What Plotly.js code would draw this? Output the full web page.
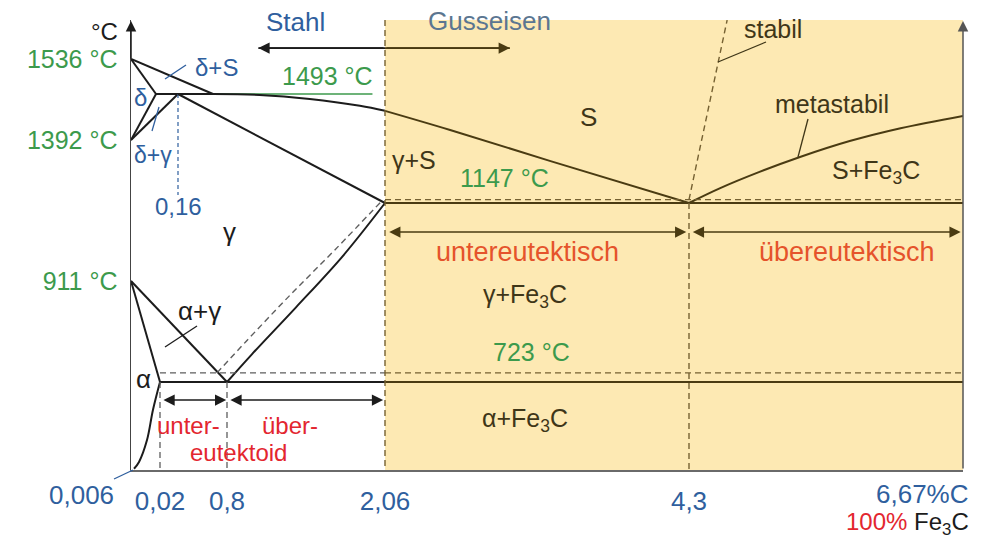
<!DOCTYPE html>
<html>
<head>
<meta charset="utf-8">
<script src="https://cdn.plot.ly/plotly-3.0.1.min.js"></script>
<style>
  html, body { margin: 0; padding: 0; background: #fff; }
  #chart { width: 1000px; height: 538px; }
</style>
</head>
<body>
<div id="chart"></div>
<script>
// Eisen-Kohlenstoff-Diagramm (schematisch, nicht maßstäblich)

// ---- characteristic temperatures (°C) ----
const tempTicks = [1536, 1392, 911];
const tempTickText = ['1536 °C', '1392 °C', '911 °C'];
const T_PERITECTIC = 1493;
const T_EUTECTIC = 1147;
const T_EUTECTOID = 723;
const T_EUTECTIC_STABLE = 1160;
const T_EUTECTOID_STABLE = 740;

// ---- characteristic carbon contents (% C) ----
const carbonTicks = [0.02, 0.8, 2.06, 4.3];
const carbonTickText = ['0,02', '0,8', '2,06', '4,3'];
const C_FE3C = 6.67;

// ---- phase boundaries: carbon (% C) / temperature (°C) ----
// delta corner (peritectic region, drawn enlarged)
const liquidusAB_C = [0, 0.53];          const liquidusAB_T = [1536, 1493];
const solidusAH_C = [0, 0.1];            const solidusAH_T = [1536, 1493];
const peritecticHB_C = [0.1, 0.53];      const peritecticHB_T = [1493, 1493];
const deltaNH_C = [0, 0.1];              const deltaNH_T = [1392, 1493];
const gammaNJ_C = [0, 0.16];             const gammaNJ_T = [1392, 1493];
// main diagram
const solidusJE_C = [0.16, 2.06];        const solidusJE_T = [1493, 1147];
const liquidusBC1_C = [0.53, 1.06, 1.46, 1.86, 2.06];
const liquidusBC1_T = [1493, 1491, 1482, 1467, 1456];
const liquidusBC2_C = [2.06, 2.54, 3.28, 4.3];
const liquidusBC2_T = [1456, 1414, 1310, 1147];
const liquidusCD_C = [4.3, 4.57, 4.91, 5.26, 5.69, 6.13, 6.67];
const liquidusCD_T = [1147, 1205, 1268, 1326, 1388, 1418, 1445];
const liquidusStable_C = [4.3, 4.63];    const liquidusStable_T = [1160, 1600];
const gs_C = [0, 0.8];                   const gs_T = [911, 723];
const gp_C = [0, 0.02];                  const gp_T = [911, 723];
const pq_C = [0.02, 0.0162, 0.013, 0.0087, 0.006];
const pq_T = [723, 493, 246, 66, 10];
const acm_C = [0.8, 1.0, 1.35, 1.72, 2.06];
const acm_T = [723, 775, 862, 985, 1147];
const acmStable_C = [0.607, 0.95, 1.30, 1.66, 2.044];
const acmStable_T = [740, 798, 884, 1005, 1160];
const tTop = 1600, tBottom = 0;

// ---- range arrows ----
const steelRange = [2.06, 1.05];         const castRange = [2.06, 2.98];
const tRangeArrows = 1554;
const eutectoidRanges = [[0.02, 0.8], [0.8, 2.06]];   const tEutectoidArrows = 575;
const eutecticRanges = [[2.06, 4.3], [4.3, 6.67]];    const tEutecticArrows = 1059;

// ---- schematic axis scales (piecewise linear) ----
const mainScaleC  = [0, 0.006, 0.02, 0.16, 0.53, 0.8, 2.06, 4.3, 6.67];
const mainScalePos = [131, 134, 160, 178, 213, 227, 385, 689, 963];
const deltaScaleC  = [0, 0.1, 0.16, 0.53];
const deltaScalePos = [131, 156, 178, 213];
const tempScaleT  = [0, 723, 911, 1147, 1392, 1493, 1536, 1600];
const tempScalePos = [470, 382, 281, 203, 140, 94, 59, 20];

function interp(v, xs, ys) {
  let i = 1;
  while (i < xs.length - 1 && v > xs[i]) i++;
  return ys[i - 1] + (v - xs[i - 1]) * (ys[i] - ys[i - 1]) / (xs[i] - xs[i - 1]);
}
const cx = c => interp(c, mainScaleC, mainScalePos);
const cxDelta = c => interp(c, deltaScaleC, deltaScalePos);
const ty = t => interp(t, tempScaleT, tempScalePos);

// ---- colours ----
const FONT = 'Liberation Sans, Arial, sans-serif';
const BLACK = '#1c1c1c';
const BROWN = '#4a3b12';
const DASH_GREY = '#5e5e5e';
const DASH_BROWN = '#756132';
const YELLOW = '#fde9b3';
const BLUE = '#2f5f9e';
const GREEN = '#3c9a4c';
const RED = '#e3262f';
const ORANGE = '#e5532b';
const DARK = '#3f3618';

function curve(cs, ts, color, opts = {}) {
  const sx = opts.scale || cx;
  return {
    type: 'scatter', mode: 'lines',
    x: cs.map(sx), y: ts.map(ty),
    line: { color: color, width: opts.width || 2, dash: opts.dash || 'solid',
            shape: opts.spline ? 'spline' : 'linear' },
    hoverinfo: 'skip', showlegend: false
  };
}
const DASH = '6px,4px';

const traces = [
  // delta corner
  curve(liquidusAB_C, liquidusAB_T, BLACK, { scale: cxDelta }),
  curve(solidusAH_C, solidusAH_T, BLACK, { scale: cxDelta }),
  curve(peritecticHB_C, peritecticHB_T, BLACK, { scale: cxDelta }),
  curve(deltaNH_C, deltaNH_T, BLACK, { scale: cxDelta }),
  curve(gammaNJ_C, gammaNJ_T, BLACK, { scale: cxDelta }),
  // 1493 °C marker line
  curve([0.53, 1.96], [T_PERITECTIC, T_PERITECTIC], GREEN, { width: 1.6 }),
  // 0,16 guide
  curve([0.16, 0.16], [T_PERITECTIC, 1178], BLUE, { width: 1.2, dash: '4px,3px' }),
  // solidus and liquidus
  curve(solidusJE_C, solidusJE_T, BLACK),
  curve(liquidusBC1_C, liquidusBC1_T, BLACK, { spline: true }),
  curve(liquidusBC2_C, liquidusBC2_T, BROWN, { spline: true }),
  curve(liquidusCD_C, liquidusCD_T, BROWN, { spline: true }),
  curve(liquidusStable_C, liquidusStable_T, DASH_BROWN, { width: 1.4, dash: DASH }),
  // eutectic
  curve([2.06, C_FE3C], [T_EUTECTIC_STABLE, T_EUTECTIC_STABLE], DASH_BROWN, { width: 1.4, dash: DASH }),
  curve([2.06, C_FE3C], [T_EUTECTIC, T_EUTECTIC], BROWN),
  // gamma / alpha region
  curve(gs_C, gs_T, BLACK),
  curve(gp_C, gp_T, BLACK),
  curve(pq_C, pq_T, BLACK, { spline: true }),
  curve(acmStable_C, acmStable_T, DASH_GREY, { width: 1.4, dash: DASH, spline: true }),
  curve(acm_C, acm_T, BLACK, { spline: true }),
  // eutectoid
  curve([0.02, 2.06], [T_EUTECTOID_STABLE, T_EUTECTOID_STABLE], DASH_GREY, { width: 1.4, dash: DASH }),
  curve([2.06, C_FE3C], [T_EUTECTOID_STABLE, T_EUTECTOID_STABLE], DASH_BROWN, { width: 1.4, dash: DASH }),
  curve([0.02, 2.06], [T_EUTECTOID, T_EUTECTOID], BLACK),
  curve([2.06, C_FE3C], [T_EUTECTOID, T_EUTECTOID], BROWN),
  // vertical guides
  curve([0.02, 0.02], [T_EUTECTOID, tBottom], DASH_GREY, { width: 1.3, dash: DASH }),
  curve([0.8, 0.8], [T_EUTECTOID, tBottom], DASH_GREY, { width: 1.3, dash: DASH }),
  curve([2.06, 2.06], [tTop, tBottom], DASH_BROWN, { width: 1.4, dash: DASH }),
  curve([4.3, 4.3], [T_EUTECTIC, tBottom], DASH_BROWN, { width: 1.4, dash: DASH }),
  // steel / cast iron arrow shafts
  curve([steelRange[1], steelRange[0]], [tRangeArrows, tRangeArrows], BLACK, { width: 1.8 }),
  curve([castRange[0], castRange[1]], [tRangeArrows, tRangeArrows], BROWN, { width: 1.8 })
];

// ---- text labels (positions in plot units, converted to paper) ----
const X0 = 131, X1 = 963, Y0 = 470, Y1 = 20;
const px = v => (v - X0) / (X1 - X0);
const py = v => (Y0 - v) / (Y0 - Y1);

function label(text, x, y, color, size, anchor) {
  return {
    text: text, xref: 'paper', yref: 'paper', x: px(x), y: py(y),
    xanchor: anchor || 'center', yanchor: 'middle', showarrow: false,
    font: { family: FONT, size: size, color: color }
  };
}
const SUB3 = 'Fe<sub>3</sub>C';
const annotations = [
  label('°C', 104, 31, BLACK, 24),
  label('Stahl', 295, 22, BLUE, 26),
  label('Gusseisen', 489, 21, '#5b7691', 26),
  label('stabil', 773, 29, DARK, 25),
  label('metastabil', 832, 104, DARK, 25),
  label('S', 588, 117, DARK, 26),
  label('γ+S', 414, 160, DARK, 25),
  label('1147 °C', 504, 178, GREEN, 25),
  label('S+' + SUB3, 876, 172, DARK, 25),
  label('untereutektisch', 527, 252, ORANGE, 27),
  label('übereutektisch', 847, 252, ORANGE, 27),
  label('γ+' + SUB3, 525, 296, DARK, 25),
  label('723 °C', 531, 352, GREEN, 25),
  label('α+' + SUB3, 525, 420, DARK, 25),
  label('1493 °C', 327, 76, GREEN, 25),
  label('δ+S', 216, 67, BLUE, 24),
  label('δ', 140, 97, BLUE, 24),
  label('δ+γ', 153, 155, BLUE, 23),
  label('0,16', 178, 206, BLUE, 24),
  label('γ', 229, 232, BLACK, 26),
  label('α+γ', 199, 311, BLACK, 26),
  label('α', 143, 379, BLACK, 26),
  label('unter-', 188, 425, RED, 24),
  label('eutektoid', 238, 452, RED, 24),
  label('über-', 290, 425, RED, 24),
  label('0,006', 81, 495, BLUE, 26),
  label('6,67%C', 971, 494, BLUE, 26, 'right'),
  label('<span style="color:' + RED + '">100%</span> ' + SUB3, 971, 523, BLACK, 24, 'right')
];

// arrows (data-referenced)
function arrow(c0, c1, t, color, both) {
  return {
    x: cx(c1), y: ty(t), ax: cx(c0), ay: ty(t), xref: 'x', yref: 'y', axref: 'x', ayref: 'y',
    text: '', showarrow: true, arrowhead: 2, arrowsize: 1.5, arrowwidth: 1.5,
    arrowcolor: color, arrowside: both ? 'end+start' : 'end', standoff: 0, startstandoff: 0
  };
}
annotations.push(arrow(steelRange[0], steelRange[1], tRangeArrows, BLACK, false));
annotations.push(arrow(castRange[0], castRange[1], tRangeArrows, BROWN, false));
eutectoidRanges.forEach(r => annotations.push(arrow(r[0] + 0.015, r[1] - 0.015, tEutectoidArrows, BLACK, true)));
eutecticRanges.forEach(r => annotations.push(arrow(r[0] + 0.02, r[1] - 0.02, tEutecticArrows, BROWN, true)));
// axis arrow heads
annotations.push({ x: 131, y: 21, ax: 131, ay: 60, xref: 'x', yref: 'y', axref: 'x', ayref: 'y',
  text: '', showarrow: true, arrowhead: 2, arrowsize: 1.4, arrowwidth: 1.5, arrowcolor: BLACK });
annotations.push({ x: 963, y: 21, ax: 963, ay: 470, xref: 'x', yref: 'y', axref: 'x', ayref: 'y',
  text: '', showarrow: true, arrowhead: 2, arrowsize: 1.4, arrowwidth: 1.5, arrowcolor: '#555' });

// leader lines
function leader(x0, y0, x1, y1, color) {
  return { type: 'line', xref: 'paper', yref: 'paper', x0: px(x0), y0: py(y0), x1: px(x1), y1: py(y1),
           line: { color: color, width: 1.3 } };
}
const shapes = [
  { type: 'rect', xref: 'x', yref: 'y', x0: cx(2.06), x1: cx(C_FE3C), y0: ty(tTop), y1: ty(tBottom),
    fillcolor: YELLOW, line: { width: 0 }, layer: 'below' },
  leader(718, 62, 766, 42, DARK),
  leader(808, 119, 798, 157, DARK),
  leader(165, 79, 186, 65, BLUE),
  leader(152, 131, 159, 107, BLUE),
  leader(165, 347, 197, 326, BLACK),
  leader(114, 479, 133, 470, BLUE)
];

const layout = {
  width: 1000, height: 538,
  margin: { l: 131, r: 37, t: 20, b: 68, pad: 0 },
  paper_bgcolor: '#ffffff', plot_bgcolor: '#ffffff',
  font: { family: FONT },
  showlegend: false,
  xaxis: {
    range: [X0, X1], showgrid: false, zeroline: false, fixedrange: true,
    showline: true, linecolor: '#6a6a6a', linewidth: 1.5,
    tickmode: 'array', tickvals: carbonTicks.map(cx), ticktext: carbonTickText,
    ticks: '', ticklabelstandoff: 7, tickfont: { family: FONT, size: 26, color: BLUE }
  },
  yaxis: {
    range: [Y0, Y1], showgrid: false, zeroline: false, fixedrange: true,
    showline: true, linecolor: '#444444', linewidth: 1.5,
    tickmode: 'array', tickvals: tempTicks.map(ty), ticktext: tempTickText,
    ticks: '', ticklabelstandoff: 7, tickfont: { family: FONT, size: 25, color: GREEN }
  },
  shapes: shapes,
  annotations: annotations
};

Plotly.newPlot('chart', traces, layout, { staticPlot: true, displayModeBar: false });
</script>
</body>
</html>
